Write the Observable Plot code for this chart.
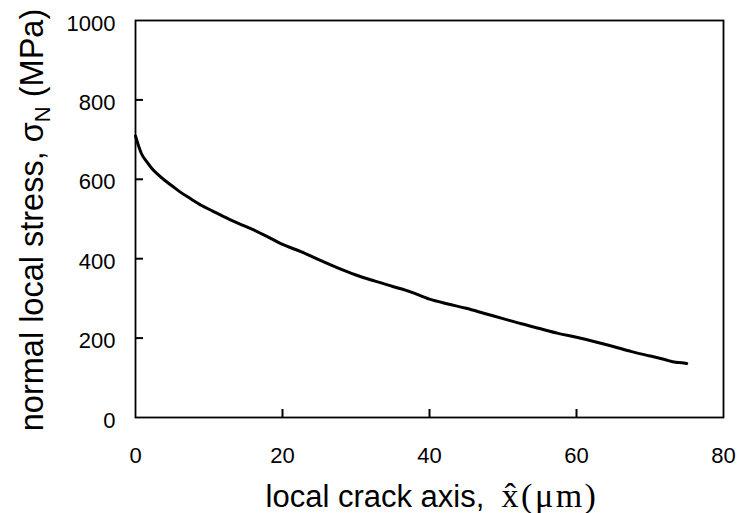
<!DOCTYPE html>
<html>
<head>
<meta charset="utf-8">
<script src="https://cdn.jsdelivr.net/npm/d3@7"></script>
<script src="https://cdn.jsdelivr.net/npm/@observablehq/plot@0.6"></script>
<style>
  html, body { margin: 0; padding: 0; background: #fff; }
  #chart svg { display: block; }
</style>
</head>
<body>
<div id="chart"></div>
<script>
const crackAxis = [0, 0.4, 0.8, 1.5, 2.2, 3.0, 4.0, 5.0, 6.0, 7.5, 9.0, 10.5, 12.0, 14.0, 16.0, 18.0, 20.0, 22.5, 25.0, 27.5, 30.0, 32.5, 35.0, 37.5, 40.0, 42.5, 45.0, 47.5, 50.0, 52.5, 55.0, 57.5, 60.0, 62.5, 65.0, 67.5, 70.0, 72.0, 73.5, 74.3, 75.0];
const normalStress = [709, 685, 665, 645, 628, 613, 597, 583, 569, 551, 534, 520, 506, 489, 473, 455, 436, 418, 397, 377, 359, 344, 330, 316, 298, 286, 275, 262, 249, 236, 224, 212, 202, 191, 179, 166, 155, 146, 139, 138, 136];
const xTicks = [0, 20, 40, 60, 80];
const yTicks = [0, 200, 400, 600, 800, 1000];

const data = crackAxis.map((x, i) => ({x, y: normalStress[i]}));

const W = 738, H = 513, mL = 135, mR = 15, mT = 20, mB = 96, tickLen = 8;

const plot = Plot.plot({
  width: W,
  height: H,
  marginLeft: mL,
  marginRight: mR,
  marginTop: mT,
  marginBottom: mB,
  style: {fontFamily: "Liberation Sans, Arial, sans-serif", fontSize: "22px", color: "#000", background: "#fff"},
  x: {domain: [0, 80]},
  y: {domain: [0, 1000]},
  marks: [
    Plot.axisX({ticks: xTicks, tickSize: 0, tickPadding: 30, label: null, tickFormat: d => String(d), fontSize: 22}),
    Plot.axisY({ticks: yTicks, tickSize: 0, tickPadding: 20, label: null, tickFormat: d => String(d), fontSize: 22, dy: 3}),
    // short inward ticks
    Plot.tickX(xTicks.slice(1, -1), {x: d => d, insetTop: (H - mT - mB) - tickLen, stroke: "#000", strokeWidth: 2}),
    Plot.tickY(yTicks.slice(1, -1), {y: d => d, insetRight: (W - mL - mR) - tickLen, stroke: "#000", strokeWidth: 2}),
    Plot.frame({stroke: "#000", strokeWidth: 1.8}),
    Plot.line(data, {x: "x", y: "y", stroke: "#000", strokeWidth: 3, curve: "monotone-x"})
  ]
});

document.getElementById("chart").appendChild(plot);

const svg = d3.select(plot);

// x-axis title
const xt = svg.append("text")
  .attr("x", 432).attr("y", 507)
  .attr("text-anchor", "middle")
  .attr("fill", "#000")
  .style("font-family", "Liberation Sans, Arial, sans-serif")
  .style("font-size", "31px");
xt.append("tspan").style("white-space", "pre").text("local crack axis,  ");
xt.append("tspan")
  .style("font-family", "Liberation Serif, Times New Roman, serif")
  .style("font-size", "34px")
  .style("letter-spacing", "2.5px")
  .text("x\u0302(\u03bcm)");

// y-axis title
const yt = svg.append("text")
  .attr("transform", "translate(43,220) rotate(-90)")
  .attr("text-anchor", "middle")
  .attr("fill", "#000")
  .style("font-family", "Liberation Sans, Arial, sans-serif")
  .style("font-size", "32.5px");
yt.append("tspan").text("normal local stress, \u03c3");
yt.append("tspan").attr("dy", 7).style("font-size", "22px").text("N");
yt.append("tspan").attr("dy", -7).style("white-space", "pre").text(" (MPa)");
</script>
</body>
</html>
